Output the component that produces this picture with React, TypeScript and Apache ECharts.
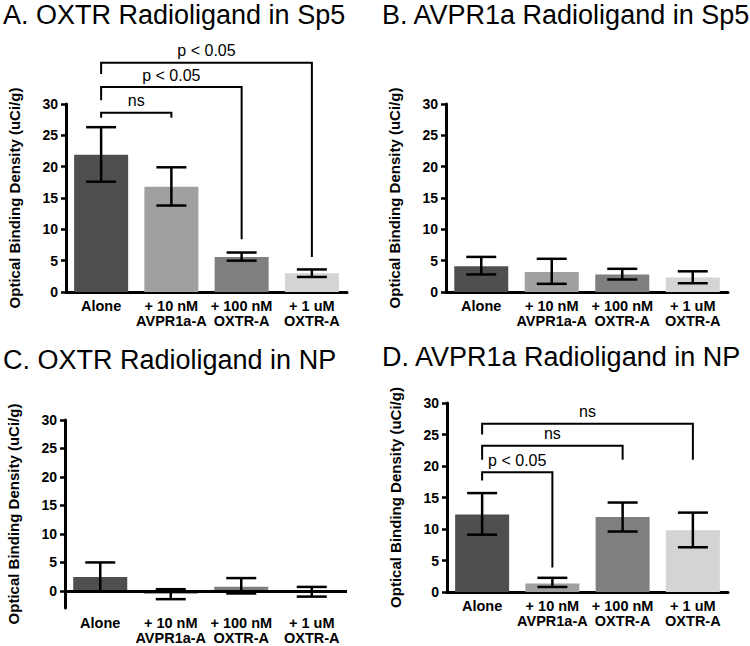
import React, { useEffect, useRef } from "react";
import * as echarts from "echarts";

// ---------- data ----------
const categories = ["Alone", "+ 10 nM\nAVPR1a-A", "+ 100 nM\nOXTR-A", "+ 1 uM\nOXTR-A"];
const barColors = ["#4f4f4f", "#a0a0a0", "#7f7f7f", "#d4d4d4"];
const yTicks = [0, 5, 10, 15, 20, 25, 30];
const titles = [
  "A. OXTR Radioligand in Sp5",
  "B. AVPR1a Radioligand in Sp5",
  "C. OXTR Radioligand in NP",
  "D. AVPR1a Radioligand in NP",
];
const yName = "Optical Binding Density (uCi/g)";

// Panel A: OXTR radioligand in Sp5
const meanA = [21.9, 16.8, 5.6, 3.0];
const lowA = [17.6, 13.8, 5.0, 2.4];
const highA = [26.3, 19.9, 6.3, 3.6];
// Panel B: AVPR1a radioligand in Sp5
const meanB = [4.1, 3.2, 2.8, 2.3];
const lowB = [2.8, 1.3, 2.0, 1.4];
const highB = [5.6, 5.3, 3.7, 3.3];
// Panel C: OXTR radioligand in NP
const meanC = [2.45, -0.55, 0.75, -0.15];
const lowC = [-0.1, -1.45, -0.45, -1.0];
const highC = [5.0, 0.3, 2.25, 0.7];
// Panel D: AVPR1a radioligand in NP
const meanD = [12.3, 1.35, 11.9, 9.8];
const lowD = [9.1, 0.8, 9.6, 7.1];
const highD = [15.7, 2.25, 14.2, 12.6];

// significance brackets: [fromIndex, toIndex, topY, leftEndY, rightEndY]
const bracketsA = [
  [0, 1, 28.6, 27.8, 27.8],
  [0, 2, 32.7, 30.6, 8.4],
  [0, 3, 36.6, 34.8, 5.6],
];
const bracketLabelsA = ["ns", "p < 0.05", "p < 0.05"];
const bracketsD = [
  [0, 1, 19.0, 17.7, 3.9],
  [0, 2, 23.2, 21.0, 21.0],
  [0, 3, 26.7, 25.0, 21.0],
];
const bracketLabelsD = ["p < 0.05", "ns", "ns"];

// ---------- chart ----------
const FONT = '"Liberation Sans", Arial, Helvetica, sans-serif';

const panels = [
  { mean: meanA, low: lowA, high: highA, brackets: bracketsA, labels: bracketLabelsA, grid: { left: 66, top: 104, width: 281, height: 188 }, min: 0, title: { x: 3, y: 15 } },
  { mean: meanB, low: lowB, high: highB, brackets: null, labels: null, grid: { left: 446, top: 104, width: 282, height: 188 }, min: 0, title: { x: 382, y: 15 } },
  { mean: meanC, low: lowC, high: highC, brackets: null, labels: null, grid: { left: 65, top: 420, width: 282, height: 188 }, min: -3, title: { x: 3, y: 360 } },
  { mean: meanD, low: lowD, high: highD, brackets: bracketsD, labels: bracketLabelsD, grid: { left: 447, top: 403, width: 281, height: 189 }, min: 0, title: { x: 382, y: 357 } },
];

function buildOption() {
  const grid: any[] = [];
  const xAxis: any[] = [];
  const yAxis: any[] = [];
  const series: any[] = [];
  const graphic: any[] = [];

  panels.forEach((p, i) => {
    grid.push({ ...p.grid, containLabel: false });
    const isC = p.min < 0;
    xAxis.push({
      type: "category",
      gridIndex: i,
      data: categories,
      axisTick: { show: false },
      axisLine: { show: !isC, onZero: false, lineStyle: { color: "#000", width: 3 } },
      axisLabel: {
        color: "#000",
        fontFamily: FONT,
        fontWeight: "bold",
        fontSize: 14.5,
        lineHeight: 15,
        margin: isC ? 7 : 6,
        interval: 0,
      },
    });
    const yAx: any = {
      type: "value",
      gridIndex: i,
      min: p.min,
      max: 30,
      splitLine: { show: false },
      axisLine: { show: true, onZero: false, lineStyle: { color: "#000", width: 3 } },
      axisTick: { show: true, length: 5, lineStyle: { color: "#000", width: 2.5 } },
      axisLabel: { color: "#000", fontFamily: FONT, fontWeight: "bold", fontSize: 14, margin: 8 },
      name: yName,
      nameLocation: "middle",
      nameGap: 44,
      nameTextStyle: { color: "#000", fontFamily: FONT, fontWeight: "bold", fontSize: 15 },
    };
    if (isC) {
      yAx.axisTick.customValues = yTicks;
      yAx.axisLabel.customValues = yTicks;
    } else {
      yAx.interval = 5;
    }
    yAxis.push(yAx);

    const bar: any = {
      type: "bar",
      xAxisIndex: i,
      yAxisIndex: i,
      barWidth: 54,
      data: p.mean.map((v, k) => ({ value: v, itemStyle: { color: barColors[k] } })),
      z: 2,
    };
    if (isC) {
      bar.markLine = {
        silent: true,
        symbol: "none",
        label: { show: false },
        lineStyle: { color: "#000", width: 3, type: "solid" },
        data: [{ yAxis: 0 }],
        z: 5,
      };
    }
    series.push(bar);

    series.push({
      type: "custom",
      xAxisIndex: i,
      yAxisIndex: i,
      z: 4,
      encode: { x: 0, y: [1, 2] },
      data: p.mean.map((_, k) => [k, p.low[k], p.high[k]]),
      renderItem: (params: any, api: any) => {
        const x = api.value(0);
        const lo = api.coord([x, api.value(1)]);
        const hi = api.coord([x, api.value(2)]);
        const cx = lo[0];
        const hw = 15;
        const st = { stroke: "#000", lineWidth: 2.5 };
        return {
          type: "group",
          children: [
            { type: "line", shape: { x1: cx, y1: hi[1], x2: cx, y2: lo[1] }, style: st },
            { type: "line", shape: { x1: cx - hw, y1: hi[1], x2: cx + hw, y2: hi[1] }, style: st },
            { type: "line", shape: { x1: cx - hw, y1: lo[1], x2: cx + hw, y2: lo[1] }, style: st },
          ],
        };
      },
    });

    if (p.brackets) {
      const labels = p.labels as string[];
      series.push({
        type: "custom",
        xAxisIndex: i,
        yAxisIndex: i,
        z: 6,
        clip: false,
        encode: { x: [0, 1], y: [2, 3, 4] },
        data: p.brackets,
        renderItem: (params: any, api: any) => {
          const a = api.value(0);
          const b = api.value(1);
          const top = api.value(2);
          const le = api.value(3);
          const re = api.value(4);
          const p1 = api.coord([a, le]);
          const p2 = api.coord([a, top]);
          const p3 = api.coord([b, top]);
          const p4 = api.coord([b, re]);
          return {
            type: "group",
            children: [
              {
                type: "polyline",
                shape: { points: [p1, p2, p3, p4] },
                style: { stroke: "#000", lineWidth: 2, fill: "none" },
              },
              {
                type: "text",
                x: (p2[0] + p3[0]) / 2,
                y: p2[1] - 12,
                style: {
                  text: labels[params.dataIndex],
                  fontFamily: FONT,
                  fontSize: 16,
                  fill: "#000",
                  align: "center",
                  verticalAlign: "middle",
                },
              },
            ],
          };
        },
      });
    }

    graphic.push({
      type: "text",
      x: p.title.x,
      y: p.title.y,
      style: {
        text: titles[i],
        fontFamily: FONT,
        fontSize: 27,
        fill: "#000",
        align: "left",
        verticalAlign: "middle",
      },
    });
  });

  return {
    animation: false,
    backgroundColor: "#fff",
    grid,
    xAxis,
    yAxis,
    series,
    graphic,
  };
}

export default function App() {
  const ref = useRef<HTMLDivElement>(null);
  useEffect(() => {
    document.body.style.margin = "0";
    const chart = echarts.init(ref.current as HTMLDivElement, null, { renderer: "svg" });
    chart.setOption(buildOption() as any);
    return () => chart.dispose();
  }, []);
  return (
    <div
      ref={ref}
      style={{ width: 750, height: 646, position: "absolute", left: 0, top: 0 }}
    />
  );
}
